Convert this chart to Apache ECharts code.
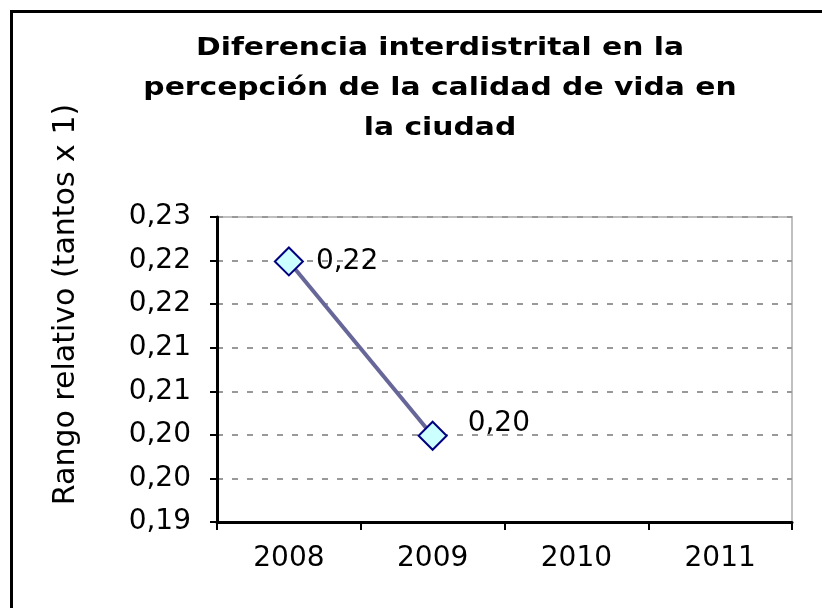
<!DOCTYPE html>
<html>
<head>
<meta charset="utf-8">
<script src="https://cdn.jsdelivr.net/npm/echarts@6/dist/echarts.min.js"></script>
<style>html,body{margin:0;padding:0;background:#fff}#c{width:822px;height:608px}</style>
</head>
<body>
<div id="c"></div>
<script>
var categories = ['2008', '2009', '2010', '2011'];
var values = [0.2249, 0.2049, null, null];
var pointLabels = ['0,22', '0,20', '', ''];
var yTickLabels = ['0,19', '0,20', '0,20', '0,21', '0,21', '0,22', '0,22', '0,23'];
var titleText = 'Diferencia interdistrital en la\npercepción de la calidad de vida en\nla ciudad';
var yAxisName = 'Rango relativo (tantos x 1)';

var labelFont = 'DejaVu Sans, Verdana, sans-serif';
var labelOffsets = [[0, 0], [8, -12], [0, 0], [0, 0]];
var seriesData = values.map(function (v, i) {
  return {value: v, label: {offset: labelOffsets[i]}};
});

var chart = echarts.init(document.getElementById('c'), null, {renderer: 'canvas'});
chart.setOption({
  animation: false,
  backgroundColor: '#fff',
  graphic: [{
    type: 'rect', left: 9, top: 9, shape: {width: 900, height: 700},
    style: {fill: 'none', stroke: '#000', lineWidth: 3}, silent: true, z: -1
  }, {
    type: 'text', x: 440, y: 29, scaleX: 1.24, silent: true,
    style: {
      x: 0, y: 0, text: titleText, textAlign: 'center', textVerticalAlign: 'top',
      font: 'bold 24px DejaVu Sans, Verdana, sans-serif', lineHeight: 40, fill: '#000'
    }
  }],
  grid: {left: 217, right: 30, top: 217, bottom: 86, show: true, borderColor: '#c0c0c0', borderWidth: 2, backgroundColor: 'transparent'},
  xAxis: {
    type: 'category', data: categories, boundaryGap: true,
    axisLine: {lineStyle: {color: '#000', width: 3}},
    axisTick: {show: true, alignWithLabel: false, length: 8, lineStyle: {color: '#000', width: 2}},
    axisLabel: {margin: 23, fontFamily: labelFont, fontSize: 28, color: '#000'},
    splitLine: {show: false}
  },
  yAxis: {
    type: 'value', min: 0.195, max: 0.23, interval: 0.005,
    name: yAxisName, nameLocation: 'middle', nameGap: 136,
    nameTextStyle: {fontFamily: labelFont, fontSize: 30, color: '#000', padding: [0, 0, 0, 130]},
    axisLine: {show: true, lineStyle: {color: '#000', width: 3}},
    axisTick: {show: true, length: 7, lineStyle: {color: '#000', width: 2}},
    axisLabel: {margin: 26, fontFamily: labelFont, fontSize: 28, color: '#000',
      formatter: function (v, i) { return yTickLabels[i]; }},
    splitLine: {show: true, lineStyle: {color: '#999', width: 2, type: [6, 9]}}
  },
  series: [{
    type: 'line', data: seriesData,
    lineStyle: {color: '#666699', width: 4},
    symbol: 'diamond', symbolSize: 28,
    itemStyle: {color: '#ccffff', borderColor: '#000080', borderWidth: 2},
    label: {show: true, position: 'right', distance: 12, fontFamily: labelFont, fontSize: 28, color: '#000',
      formatter: function (p) { return pointLabels[p.dataIndex]; }}
  }]
});
</script>
</body>
</html>
